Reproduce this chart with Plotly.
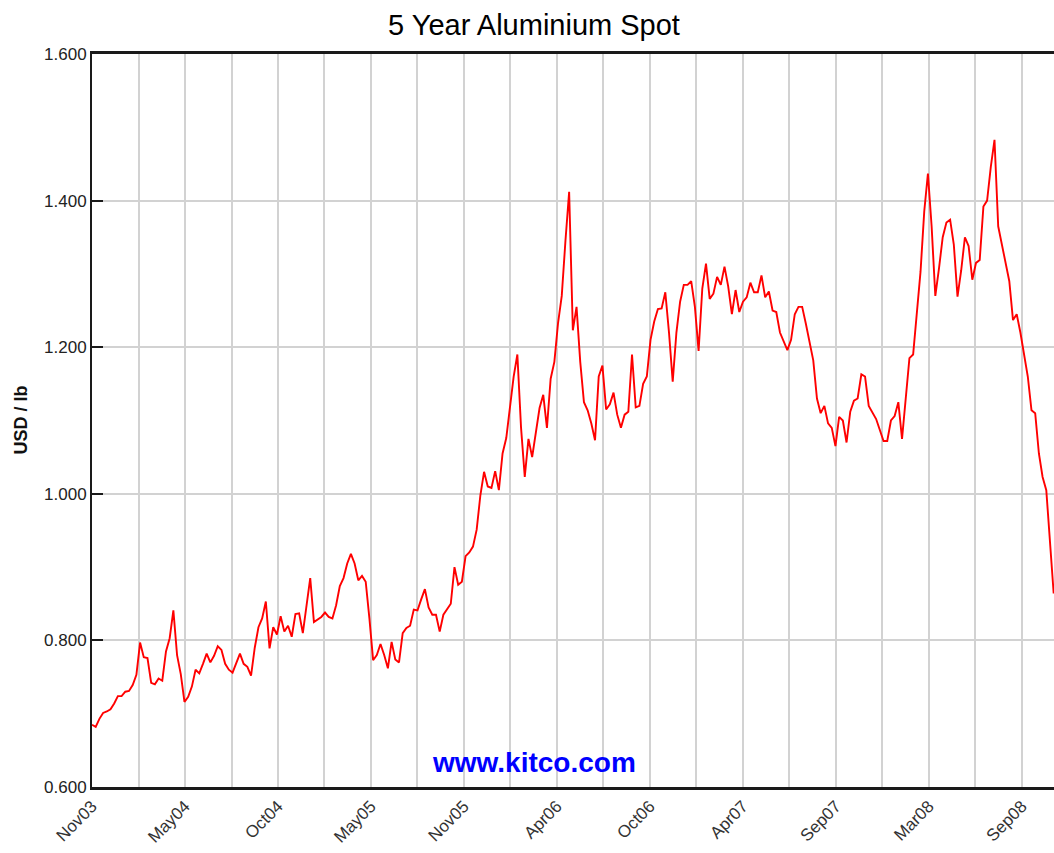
import pandas as pd
import plotly.graph_objects as go

# ---- data (weekly samples) ----
start_date = "2003-11-14"
prices = [
    0.685, 0.682, 0.693, 0.701, 0.703, 0.706, 0.714, 0.724, 0.724, 0.730,
    0.731, 0.739, 0.753, 0.797, 0.777, 0.776, 0.742, 0.740, 0.748, 0.745,
    0.785, 0.803, 0.841, 0.780, 0.754, 0.716, 0.723, 0.737, 0.760, 0.755,
    0.768, 0.782, 0.770, 0.779, 0.792, 0.787, 0.768, 0.760, 0.756, 0.768,
    0.782, 0.768, 0.764, 0.752,
    0.790, 0.818, 0.830, 0.853, 0.789, 0.818, 0.808, 0.833, 0.812, 0.820,
    0.805, 0.836, 0.837, 0.810, 0.845, 0.885, 0.825, 0.829, 0.832, 0.838,
    0.832, 0.830, 0.848, 0.874, 0.885, 0.905, 0.918, 0.905, 0.882, 0.888,
    0.880, 0.830, 0.773, 0.780, 0.795, 0.780, 0.762, 0.798, 0.774, 0.770,
    0.810, 0.817, 0.820, 0.842,
    0.841, 0.856, 0.870, 0.845, 0.835, 0.835, 0.812, 0.835, 0.842, 0.850,
    0.900, 0.876, 0.880, 0.915, 0.920, 0.928, 0.951, 0.998, 1.030, 1.010,
    1.008, 1.031, 1.005, 1.055, 1.076, 1.117, 1.160, 1.190, 1.090, 1.023,
    1.075, 1.050, 1.087, 1.117, 1.135, 1.090, 1.157, 1.180, 1.233, 1.270,
    1.345, 1.412,
    1.223, 1.255, 1.180, 1.125, 1.114, 1.096, 1.073, 1.160, 1.175, 1.115,
    1.122, 1.138, 1.108, 1.090, 1.108, 1.112, 1.190, 1.118, 1.120, 1.150,
    1.160, 1.210, 1.235, 1.252, 1.253, 1.275, 1.220, 1.153, 1.220, 1.262,
    1.285, 1.285, 1.290, 1.255, 1.195, 1.280, 1.314, 1.266, 1.273, 1.296,
    1.285, 1.310, 1.283,
    1.245, 1.278, 1.248, 1.262, 1.268, 1.288, 1.275, 1.275, 1.298, 1.268,
    1.276, 1.250, 1.248, 1.220, 1.208, 1.196, 1.210, 1.245, 1.255, 1.255,
    1.232, 1.207, 1.182, 1.130, 1.110, 1.120, 1.096, 1.090, 1.065, 1.105,
    1.100, 1.070, 1.112, 1.127, 1.130, 1.163, 1.160, 1.120, 1.111, 1.102,
    1.087, 1.072, 1.072,
    1.100, 1.106, 1.125, 1.075, 1.130, 1.185, 1.190, 1.250, 1.303, 1.385,
    1.437, 1.365, 1.270, 1.308, 1.350, 1.370, 1.374, 1.340, 1.269, 1.305,
    1.350, 1.338, 1.292, 1.315, 1.319, 1.392, 1.400, 1.446, 1.483, 1.365,
    1.340, 1.318, 1.290, 1.237, 1.245, 1.220, 1.190, 1.160, 1.114, 1.110,
    1.055, 1.023, 1.005, 0.940, 0.864,
]
tick_labels = ["Nov03", "May04", "Oct04", "May05", "Nov05", "Apr06",
               "Oct06", "Apr07", "Sep07", "Mar08", "Sep08"]
y_ticks = [0.6, 0.8, 1.0, 1.2, 1.4, 1.6]

dates = pd.date_range(start_date, periods=len(prices), freq="7D")
t0 = pd.Timestamp(start_date)

# gridlines every 88 days, labels every other gridline
grid_vals, grid_text = [], []
for k in range(2 * len(tick_labels) - 1):
    grid_vals.append(t0 + pd.Timedelta(days=88 * k))
    grid_text.append(tick_labels[k // 2] if k % 2 == 0 else "")

fig = go.Figure()
fig.add_trace(go.Scatter(
    x=dates, y=prices, mode="lines",
    line=dict(color="#FF0000", width=1.9),
    hoverinfo="skip", showlegend=False,
))

FONT = "Liberation Sans, Arial, sans-serif"

fig.update_layout(
    width=1054, height=853,
    margin=dict(l=92, r=0, t=54, b=66),
    paper_bgcolor="white", plot_bgcolor="white",
    title=dict(text="5 Year Aluminium Spot", font=dict(family=FONT, size=29, color="#000"),
               xref="container", x=534 / 1054, xanchor="center",
               yref="container", y=1 - 25 / 853, yanchor="middle"),
    xaxis=dict(
        range=[t0, t0 + pd.Timedelta(days=1820.6)],
        tickmode="array", tickvals=grid_vals, ticktext=grid_text,
        tickangle=-45, tickfont=dict(family=FONT, size=17, color="#333"),
        showgrid=True, gridcolor="#D2D2D2", gridwidth=2,
        showline=True, linecolor="#1a1a1a", linewidth=2.5, mirror=True,
        ticks="", zeroline=False,
    ),
    yaxis=dict(
        range=[0.6, 1.6], tickmode="array", tickvals=y_ticks,
        ticktext=[f"{v:.3f}" for v in y_ticks],
        tickfont=dict(family=FONT, size=17, color="#222"),
        showgrid=True, gridcolor="#D2D2D2", gridwidth=2,
        showline=True, linecolor="#1a1a1a", linewidth=2, mirror=False,
        ticks="inside", ticklen=11, tickwidth=2, tickcolor="#1a1a1a",
        zeroline=False,
    ),
    annotations=[
        dict(text="www.kitco.com", xref="paper", yref="paper",
             x=(534 - 92) / 962, y=(787 - 762) / 733, xanchor="center", yanchor="middle",
             showarrow=False, font=dict(family=FONT, size=28, color="#0000FF", weight="bold")),
        dict(text="USD / lb", xref="paper", yref="paper",
             x=(20 - 92) / 962, y=0.5, xanchor="center", yanchor="middle", textangle=-90,
             showarrow=False, font=dict(family=FONT, size=18, color="#111", weight="bold")),
    ],
)

fig.write_html("out.html", config={"displayModeBar": False},
               post_script="document.body.style.margin='0';document.body.style.overflow='hidden';")
